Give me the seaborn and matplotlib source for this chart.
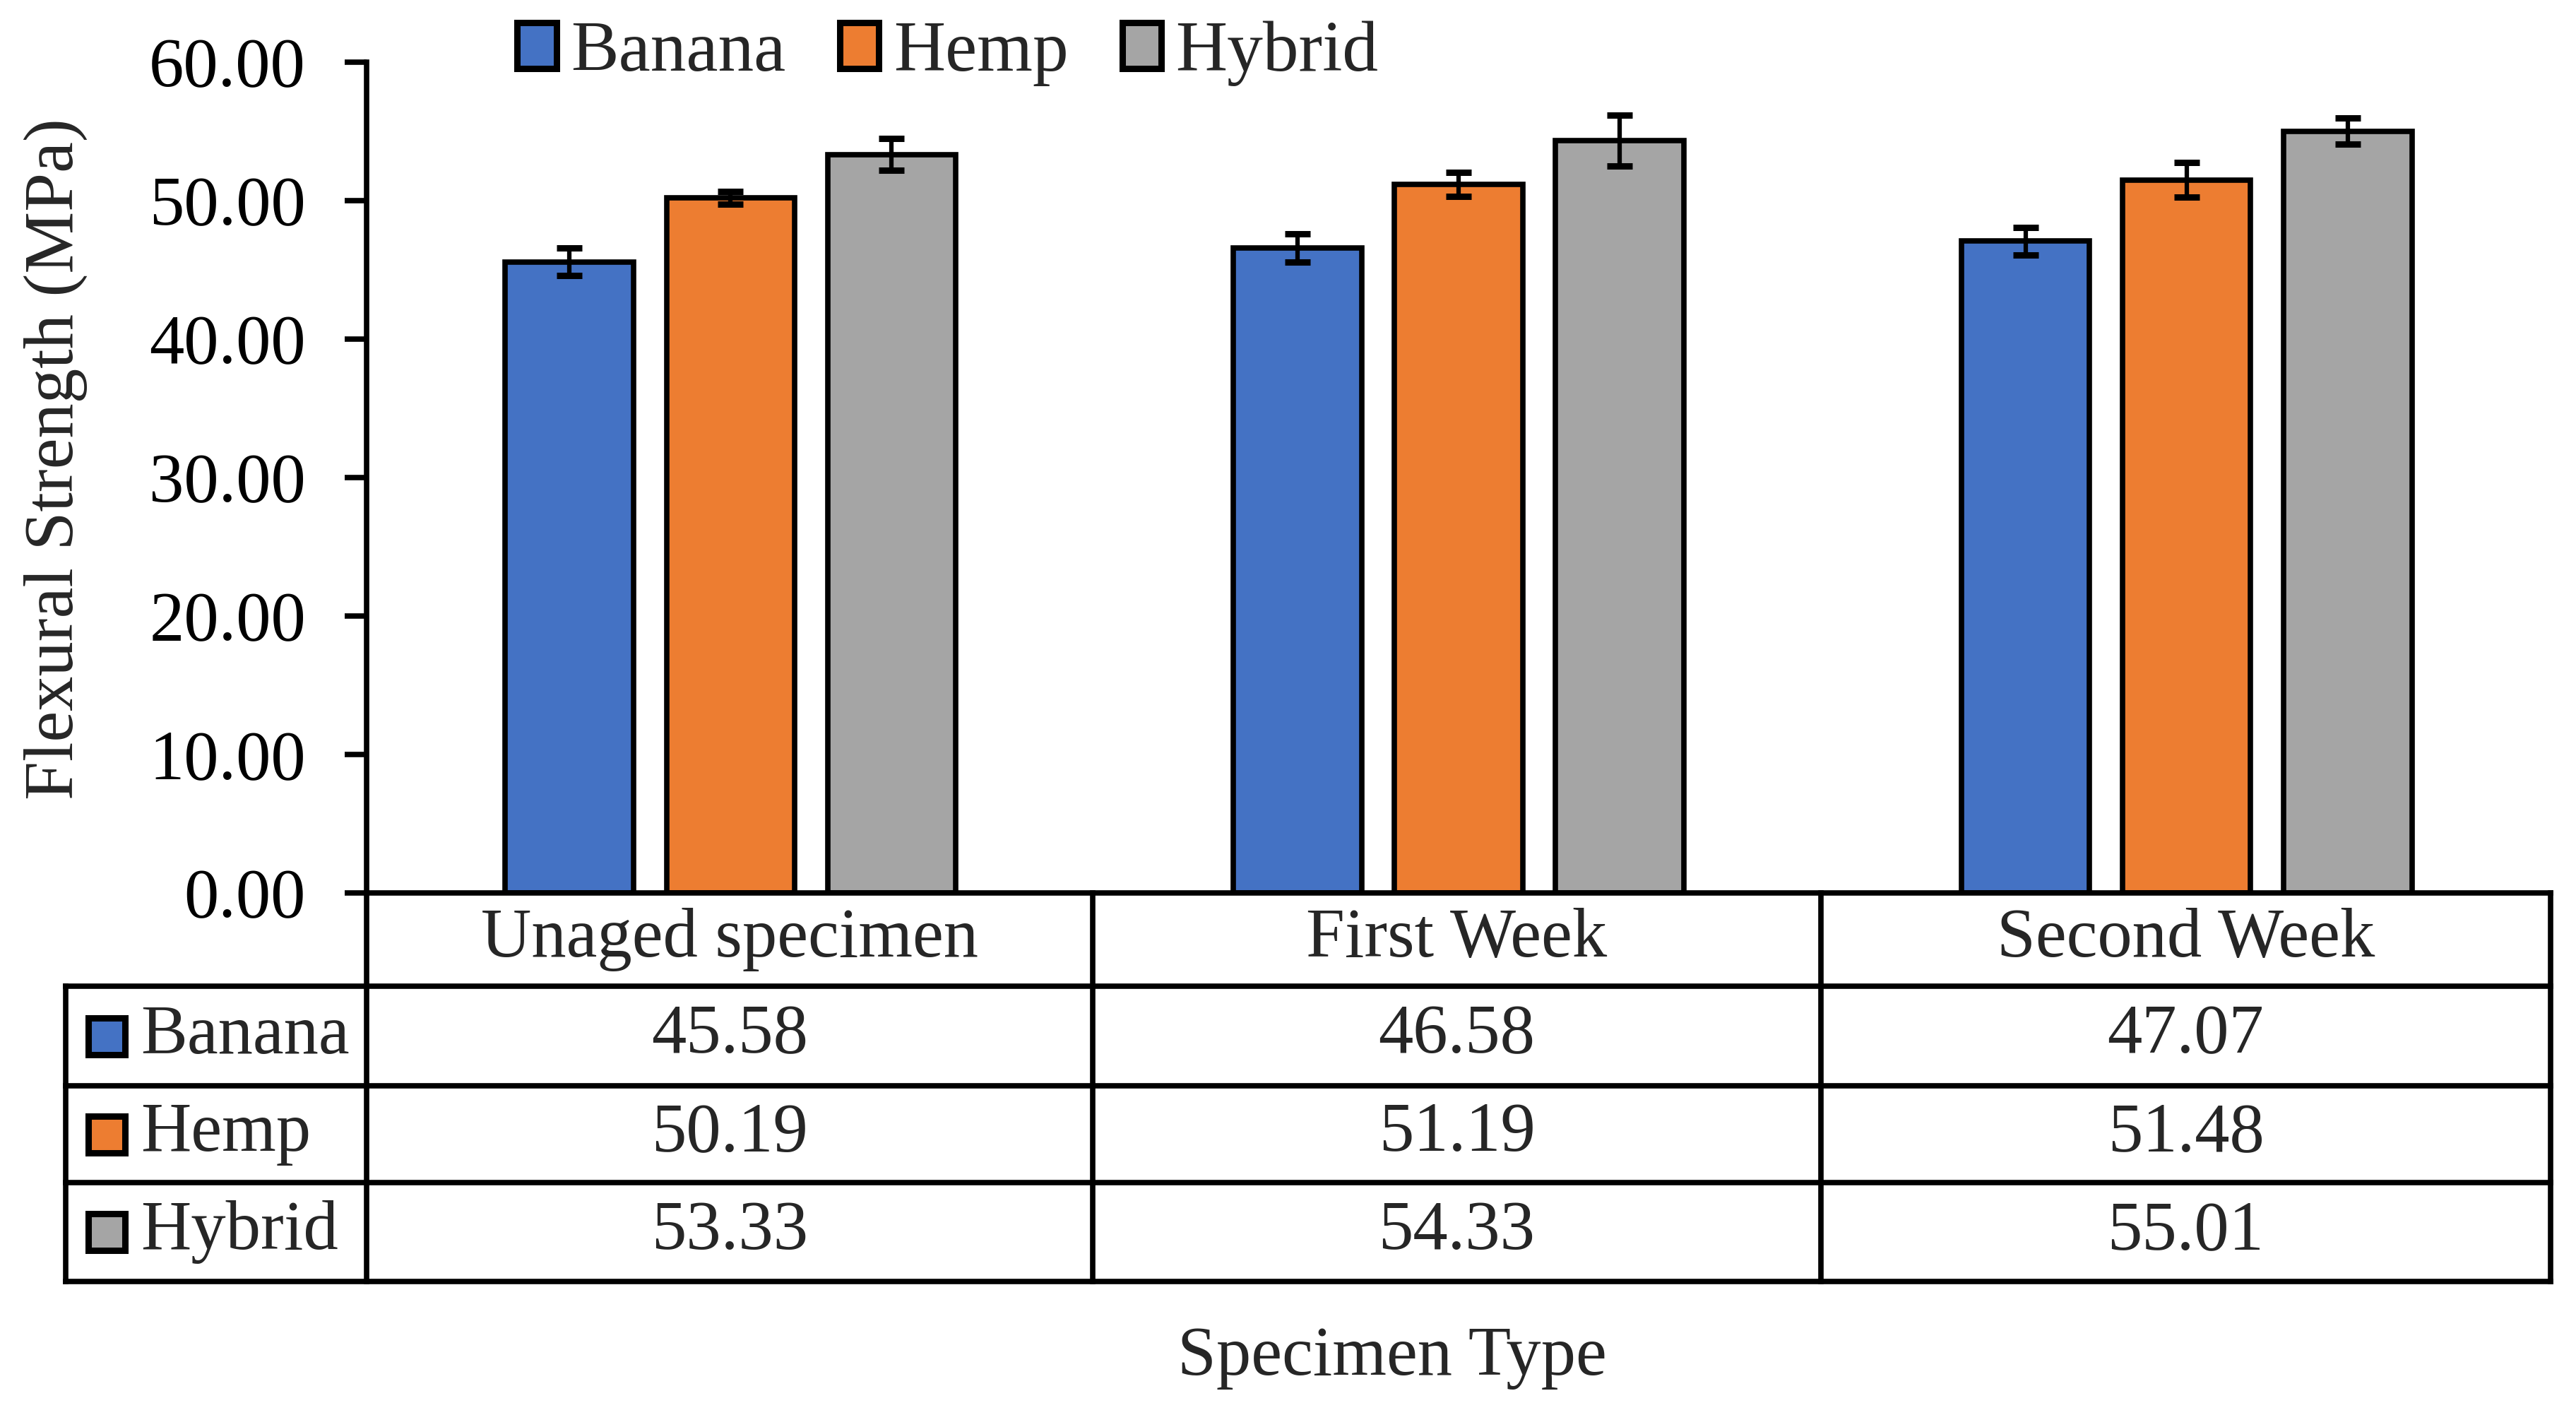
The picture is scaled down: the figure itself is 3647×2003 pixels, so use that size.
import numpy as np
import pandas as pd
import matplotlib
matplotlib.use("Agg")
import matplotlib.pyplot as plt
from matplotlib.patches import Patch, Rectangle
import seaborn as sns

# ---- data ----
categories = ["Unaged specimen", "First Week", "Second Week"]
series = ["Banana", "Hemp", "Hybrid"]
banana = [45.58, 46.58, 47.07]
hemp = [50.19, 51.19, 51.48]
hybrid = [53.33, 54.33, 55.01]
banana_err = [1.00, 1.00, 1.00]
hemp_err = [0.46, 0.87, 1.25]
hybrid_err = [1.15, 1.83, 0.95]
yticks = [0, 10, 20, 30, 40, 50, 60]
colors = ["#4472C4", "#ED7D31", "#A5A5A5"]

values = {"Banana": banana, "Hemp": hemp, "Hybrid": hybrid}
errors = {"Banana": banana_err, "Hemp": hemp_err, "Hybrid": hybrid_err}

rows = []
for s in series:
    for c, v in zip(categories, values[s]):
        rows.append({"Specimen": c, "Fiber": s, "Value": v})
df = pd.DataFrame(rows)

sns.set_theme(style="white")
plt.rcParams["font.family"] = ["Liberation Serif", "DejaVu Serif"]
FS = 71

W, H = 3648, 2003
fig = plt.figure(figsize=(W / 100, H / 100), dpi=100)
L, R, T, B = 519, 3611, 88, 1264
ax = fig.add_axes([L / W, 1 - B / H, (R - L) / W, (B - T) / H])

LW = 5.5
sns.barplot(data=df, x="Specimen", y="Value", hue="Fiber", order=categories,
            hue_order=series, palette=colors, width=0.664, gap=0.204,
            edgecolor="black", linewidth=LW, errorbar=None, legend=False,
            ax=ax, saturation=1)

for s, cont in zip(series, ax.containers):
    bars = sorted(cont.patches, key=lambda p: p.get_x())
    xs = [p.get_x() + p.get_width() / 2 for p in bars]
    hs = [p.get_height() for p in bars]
    ax.errorbar(xs, hs, yerr=errors[s], fmt="none", ecolor="black",
                elinewidth=4.5, capsize=13, capthick=6.5, zorder=5)

ax.set_ylim(0, 60)
ax.set_xlim(-0.5, 2.5)
ax.set_yticks(yticks)
ax.set_yticklabels([f"{t:.2f}" for t in yticks], fontsize=FS)
ax.set_xticks([])
ax.set_xlabel("")
ax.set_ylabel("Flexural Strength (MPa)", fontsize=FS, va="center")
ax.yaxis.set_label_coords((79 - L) / (R - L), (B - 650) / (B - T))
ax.tick_params(axis="y", direction="out", length=22, width=LW, pad=40, left=True, colors="black")
for sp in ["top", "right"]:
    ax.spines[sp].set_visible(False)
for sp in ["left", "bottom"]:
    ax.spines[sp].set_linewidth(LW)
    ax.spines[sp].set_color("black")
    ax.spines[sp].set_capstyle("projecting")

# ---- data table ----
def axx(px):
    return (px - L) / (R - L)

def axy(py):
    return (B - py) / (B - T)

tkw = dict(transform=ax.transAxes, color="black", lw=LW, clip_on=False,
           solid_capstyle="projecting")
col_px = [519, 1547, 2578, 3611]
row_px = [1264, 1396, 1537, 1674, 1814]
left_px = 93
for xp in col_px:
    ax.plot([axx(xp), axx(xp)], [axy(row_px[0]), axy(row_px[-1])], **tkw)
ax.plot([axx(left_px), axx(left_px)], [axy(row_px[1]), axy(row_px[-1])], **tkw)
for yp in row_px[1:]:
    ax.plot([axx(left_px), axx(R)], [axy(yp), axy(yp)], **tkw)

for j, c in enumerate(categories):
    xc = (col_px[j] + col_px[j + 1]) / 2
    ax.text(axx(xc), axy((row_px[0] + row_px[1]) / 2), c, ha="center",
            va="center", fontsize=FS, transform=ax.transAxes)

for i, s in enumerate(series):
    yc = (row_px[i + 1] + row_px[i + 2]) / 2
    ms = 52
    ax.add_patch(Rectangle((axx(151 - ms / 2), axy(yc + ms / 2)),
                           ms / (R - L), ms / (B - T), transform=ax.transAxes,
                           facecolor=colors[i], edgecolor="black", lw=6.5,
                           clip_on=False))
    ax.text(axx(199), axy(yc), s, ha="left", va="center", fontsize=FS,
            transform=ax.transAxes)
    for j in range(len(categories)):
        xc = (col_px[j] + col_px[j + 1]) / 2
        ax.text(axx(xc), axy(yc), f"{values[s][j]:.2f}", ha="center",
                va="center", fontsize=FS, transform=ax.transAxes)

fig.text(1971 / W, 1 - 1922 / H, "Specimen Type", ha="center", va="center",
         fontsize=FS)

handles = [Patch(facecolor=col, edgecolor="black", linewidth=6.5, label=s)
           for s, col in zip(series, colors)]
fig.legend(handles=handles, loc="center", bbox_to_anchor=(1342 / W, 1 - 76 / H),
           ncol=3, frameon=False, fontsize=73, handlelength=0.55,
           handleheight=0.62, handletextpad=0.2, columnspacing=0.75,
           borderpad=0, borderaxespad=0)

fig.savefig("out.png", dpi=100)
